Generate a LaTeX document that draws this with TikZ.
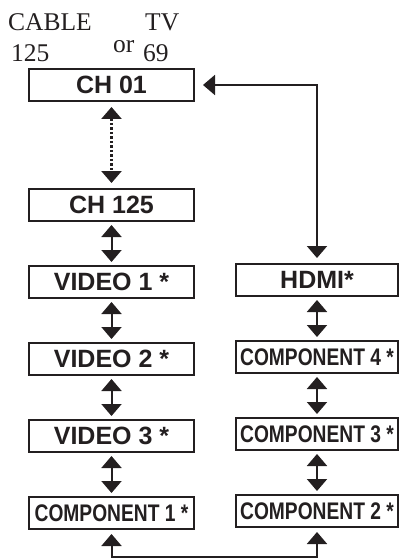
\documentclass[tikz,border=0pt]{standalone}
\usepackage{fontspec}
\setmainfont{Liberation Serif}
\newfontfamily\boxfont{Liberation Sans}
\newfontfamily\narrowfont[FakeStretch=0.8]{Liberation Sans}
\usepackage{xcolor}
\usepackage{tikz}
\usetikzlibrary{positioning, arrows.meta}
\definecolor{ink}{HTML}{231F20}

\begin{document}
\begin{tikzpicture}[
    x=1pt, y=1pt,
    node distance=45pt,
    box/.style ={draw=ink, line width=1.2pt, text=ink, inner sep=0pt, outer sep=0pt,
                 minimum width=165pt, minimum height=32pt,
                 font=\boxfont\bfseries\fontsize{25}{25}\selectfont},
    rbox/.style={box, minimum width=162pt},
    comp/.style={font=\narrowfont\bfseries\fontsize{24}{24}\selectfont},
    hdr/.style ={font=\fontsize{25.5}{25.5}\selectfont, text=ink, inner sep=0pt, anchor=base west},
    arr/.style ={{Triangle[length=12pt, width=20pt]}-{Triangle[length=12pt, width=20pt]},
                 line width=2pt, draw=ink, shorten <=4pt, shorten >=4pt}
]
\useasboundingbox (0,0) rectangle (399,-559);

% Header
\node[hdr] (cable) at (8,-31)   {CABLE};
\node[hdr] (tv)    at (145,-31) {TV};
\node[hdr] (ccnt)  at (11,-62)  {125};
\node[hdr] (or)    at (113,-53) {or};
\node[hdr] (tvcnt) at (143,-62) {69};

% Left column
\node[box] (ch01) at (111.5,-85) {CH 01};
\node[box, below=88pt of ch01] (ch125) {CH 125};
\node[box, below=of ch125] (vid1)  {VIDEO 1 *};
\node[box, below=of vid1]  (vid2)  {VIDEO 2 *};
\node[box, below=of vid2]  (vid3)  {VIDEO 3 *};
\node[box, comp, below=of vid3] (comp1) {COMPONENT 1 *};

% Right column
\node[rbox, right=42pt of vid1, yshift=2pt] (hdmi) {HDMI*};
\node[rbox, comp, below=of hdmi]  (comp4) {COMPONENT 4 *};
\node[rbox, comp, below=of comp4] (comp3) {COMPONENT 3 *};
\node[rbox, comp, below=of comp3] (comp2) {COMPONENT 2 *};

% Arrows
\draw[arr, line width=2.6pt, dash pattern=on 2.5pt off 2pt, shorten <=6pt, shorten >=6pt] (ch01) -- (ch125);
\draw[arr] (ch125) -- (vid1);
\draw[arr] (vid1)  -- (vid2);
\draw[arr] (vid2)  -- (vid3);
\draw[arr] (vid3)  -- (comp1);
\draw[arr] (hdmi)  -- (comp4);
\draw[arr] (comp4) -- (comp3);
\draw[arr] (comp3) -- (comp2);

% Loop connectors
\draw[arr, shorten <=9pt, shorten >=6pt] (ch01.east) -| (hdmi.north);
\draw[arr, shorten <=5pt, shorten >=5pt] (comp1.south) -- ++(0,-28) -| (comp2.south);
\end{tikzpicture}
\end{document}
